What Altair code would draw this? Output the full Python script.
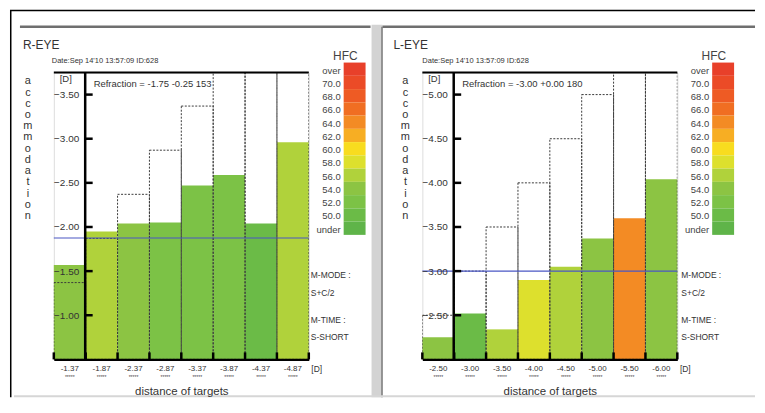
import altair as alt
import pandas as pd

# ---------------- data ----------------
hfc_labels = ["over", "70.0", "68.0", "66.0", "64.0", "62.0", "60.0",
              "58.0", "56.0", "54.0", "52.0", "50.0", "under"]
hfc_colors = ["#e8402a", "#eb4b27", "#ee5b24", "#f06e22", "#f38b24", "#f7ae23", "#f8dc1f",
              "#dde02d", "#b0d23b", "#8cc443", "#7cc246", "#6bbb47", "#5fb449"]

# R-EYE
r_cols = ["-1.37", "-1.87", "-2.37", "-2.87", "-3.37", "-3.87", "-4.37", "-4.87"]
r_acc = [-1.57, -1.95, -2.04, -2.05, -2.47, -2.59, -2.04, -2.96]
r_tgt = [-1.37, -1.87, -2.37, -2.87, -3.37, -3.87, -4.37, -4.87]
r_hfc = ["54.0", "56.0", "54.0", "52.0", "52.0", "52.0", "50.0", "56.0"]
r_ticks = [-1.0, -1.5, -2.0, -2.5, -3.0, -3.5]
r_mline = -1.875
r_domain = [-0.5, -3.75]

# L-EYE
l_cols = ["-2.50", "-3.00", "-3.50", "-4.00", "-4.50", "-5.00", "-5.50", "-6.00"]
l_acc = [-2.25, -2.52, -2.34, -2.90, -3.05, -3.37, -3.60, -4.04]
l_tgt = [-2.50, -3.00, -3.50, -4.00, -4.50, -5.00, -5.50, -6.00]
l_hfc = ["54.0", "50.0", "56.0", "58.0", "56.0", "54.0", "64.0", "54.0"]
l_ticks = [-2.5, -3.0, -3.5, -4.0, -4.5, -5.0]
l_mline = -3.00
l_domain = [-2.0, -5.25]

side_texts = ["M-MODE :", "S+C/2", "M-TIME :", "S-SHORT"]
side_ys = [203, 221, 248, 266]
vertical_title = "accommodation"

W, H = 256, 288
FONT = "Liberation Sans"
NARROW = "Liberation Sans Narrow, Liberation Sans"
TXT = "#333333"

one = pd.DataFrame({"k": [0]})


def dtext(text, x, y, size, align="left", color=TXT, baseline="middle", font=FONT, **kw):
    return alt.Chart(one).mark_text(text=text, fontSize=size, align=align, baseline=baseline,
                                    color=color, font=font, **kw).encode(
        x=alt.value(x), y=alt.value(y))


def hrule(x1, x2, y, color, w):
    return alt.Chart(one).mark_rule(color=color, strokeWidth=w).encode(
        x=alt.value(x1), x2=alt.value(x2), y=alt.value(y))


def vrule(x, y1, y2, color, w):
    return alt.Chart(one).mark_rule(color=color, strokeWidth=w).encode(
        x=alt.value(x), y=alt.value(y1), y2=alt.value(y2))


def box(x1, x2, y1, y2, color):
    return alt.Chart(one).mark_rect(color=color).encode(
        x=alt.value(x1), x2=alt.value(x2), y=alt.value(y1), y2=alt.value(y2))


def panel(cols, acc, tgt, hfc, ticks, mline, domain, eye, refr, title_dx, date_dx, acc_dx, mm_dx, extra):
    base = domain[0]
    df = pd.DataFrame({"col": cols, "acc": acc, "tgt": tgt, "hfc": hfc, "base": [base] * len(cols)})
    xs = alt.Scale(domain=cols, paddingInner=0, paddingOuter=0)
    ys = alt.Scale(domain=domain, nice=False, zero=False)
    cs = alt.Scale(domain=hfc_labels, range=hfc_colors)
    xaxis = alt.Axis(
        title="distance of targets", labelAngle=0, ticks=False, tickSize=0, grid=False,
        domainColor="black", domainWidth=2.5, labelFontSize=8, labelPadding=5,
        labelColor=TXT, labelFont=NARROW, titleFontSize=11.5, titleFont=FONT,
        titleFontWeight="normal", titleColor=TXT, titlePadding=13, labelOverlap=False)

    bars = alt.Chart(df).mark_rect().encode(
        x=alt.X("col:N", scale=xs, axis=xaxis),
        y=alt.Y("acc:Q", scale=ys, axis=alt.Axis(
            values=ticks, format=".2f", offset=-31, ticks=False, tickSize=0,
            domainColor="black", domainWidth=2.5, labelPadding=6, labelFontSize=10,
            labelColor=TXT, labelFont=FONT, title=None, grid=False, zindex=1,
            labelOverlap=False, labelBound=False, labelFlush=False)),
        y2="base:Q",
        color=alt.Color("hfc:N", scale=cs, legend=None),
    )
    targets = alt.Chart(df).mark_rect(fillOpacity=0, stroke="#3a3a3a", strokeWidth=1,
                                      strokeDash=[2, 1.5], clip=True).encode(
        x=alt.X("col:N", scale=xs, axis=xaxis),
        y=alt.Y("tgt:Q", scale=ys, axis=None),
        y2="base:Q",
    )
    blue = alt.Chart(pd.DataFrame({"v": [mline]})).mark_rule(color="#4a57c4", strokeWidth=1.2).encode(
        y=alt.Y("v:Q", scale=ys, axis=None))
    yticks = alt.Chart(pd.DataFrame({"v": ticks})).mark_rule(color="black", strokeWidth=2.5).encode(
        y=alt.Y("v:Q", scale=ys, axis=None), x=alt.value(31), x2=alt.value(39))
    xticks = alt.Chart(df).mark_rule(color="black", strokeWidth=2.5).encode(
        x=alt.X("col:N", scale=xs, axis=xaxis, bandPosition=0), y=alt.value(H - 7), y2=alt.value(H))
    xtick_last = alt.Chart(df.tail(1)).mark_rule(color="black", strokeWidth=2.5).encode(
        x=alt.X("col:N", scale=xs, axis=xaxis, bandPosition=1), y=alt.value(H - 7), y2=alt.value(H))
    stars = alt.Chart(df).mark_text(text="*****", fontSize=5, color="#444").encode(
        x=alt.X("col:N", scale=xs, axis=xaxis), y=alt.value(H + 18))
    topline = hrule(0, W, 0, "black", 2)

    ldf = pd.DataFrame({"lab": hfc_labels})
    ly = alt.Scale(domain=hfc_labels, range=[-10, 163], paddingInner=0, paddingOuter=0)
    legrect = alt.Chart(ldf).mark_rect().encode(
        y=alt.Y("lab:N", scale=ly, axis=None),
        x=alt.value(291), x2=alt.value(313),
        color=alt.Color("lab:N", scale=cs, legend=None))
    legtext = alt.Chart(ldf).mark_text(align="right", fontSize=9.5, color="#444", font=FONT, dy=1.5).encode(
        y=alt.Y("lab:N", scale=ly, axis=None), x=alt.value(288), text="lab:N")

    decos = [
        dtext(eye, title_dx, -28, 12),
        dtext("Date:Sep 14'10 13:57:09    ID:628", date_dx, -12, 7.5),
        dtext("HFC", 305, -17, 12, align="right", color="#444"),
        dtext("[D]", 12, 7, 9.5, align="center"),
        dtext(refr, 40, 12, 9.5, font=NARROW),
        dtext("\n".join(vertical_title), acc_dx, 3, 11, align="center", baseline="top",
              lineBreak="\n", lineHeight=11.25),
        dtext("[D]", 264, H + 10, 8.5, align="center"),
    ]
    for t, yy in zip(side_texts, side_ys):
        decos.append(dtext(t, mm_dx, yy, 8.5, font=NARROW))

    layers = [*extra, bars, targets, blue, yticks, xticks, xtick_last, stars, topline,
              legrect, legtext, *decos]
    return alt.layer(*layers).resolve_scale(y="independent").properties(width=W, height=H)


# page-level frame decorations, in coordinates relative to the left plot
frame = [
    box(319, 330, -48, 326, "#d3d3d3"),
    vrule(329.5, -46, 326, "#7a7a7a", 1.5),
    hrule(-34, 318, -46, "#6f6f6f", 2.5),
    hrule(330, 704, -46, "#6f6f6f", 2.5),
    hrule(-40, 704, 325, "#d6d6d6", 2),
    vrule(-43.25, -62.25, 326, "black", 1.5),
    hrule(-44, 704, -62.25, "black", 1.5),
]

left = panel(r_cols, r_acc, r_tgt, r_hfc, r_ticks, r_mline, r_domain, "R-EYE",
             "Refraction = -1.75 -0.25 153", -31, -2, -26, 258, frame)
right = panel(l_cols, l_acc, l_tgt, l_hfc, l_ticks, l_mline, l_domain, "L-EYE",
              "Refraction = -3.00 +0.00 180", -29, 0, -17, 260, [])

chart = alt.hconcat(left, right, spacing=114, bounds="flush").properties(
    padding=0, background="white"
).configure_view(stroke="#333333", strokeWidth=1).configure(font=FONT)

chart.save("out.html", embed_options={"renderer": "svg", "actions": False})
